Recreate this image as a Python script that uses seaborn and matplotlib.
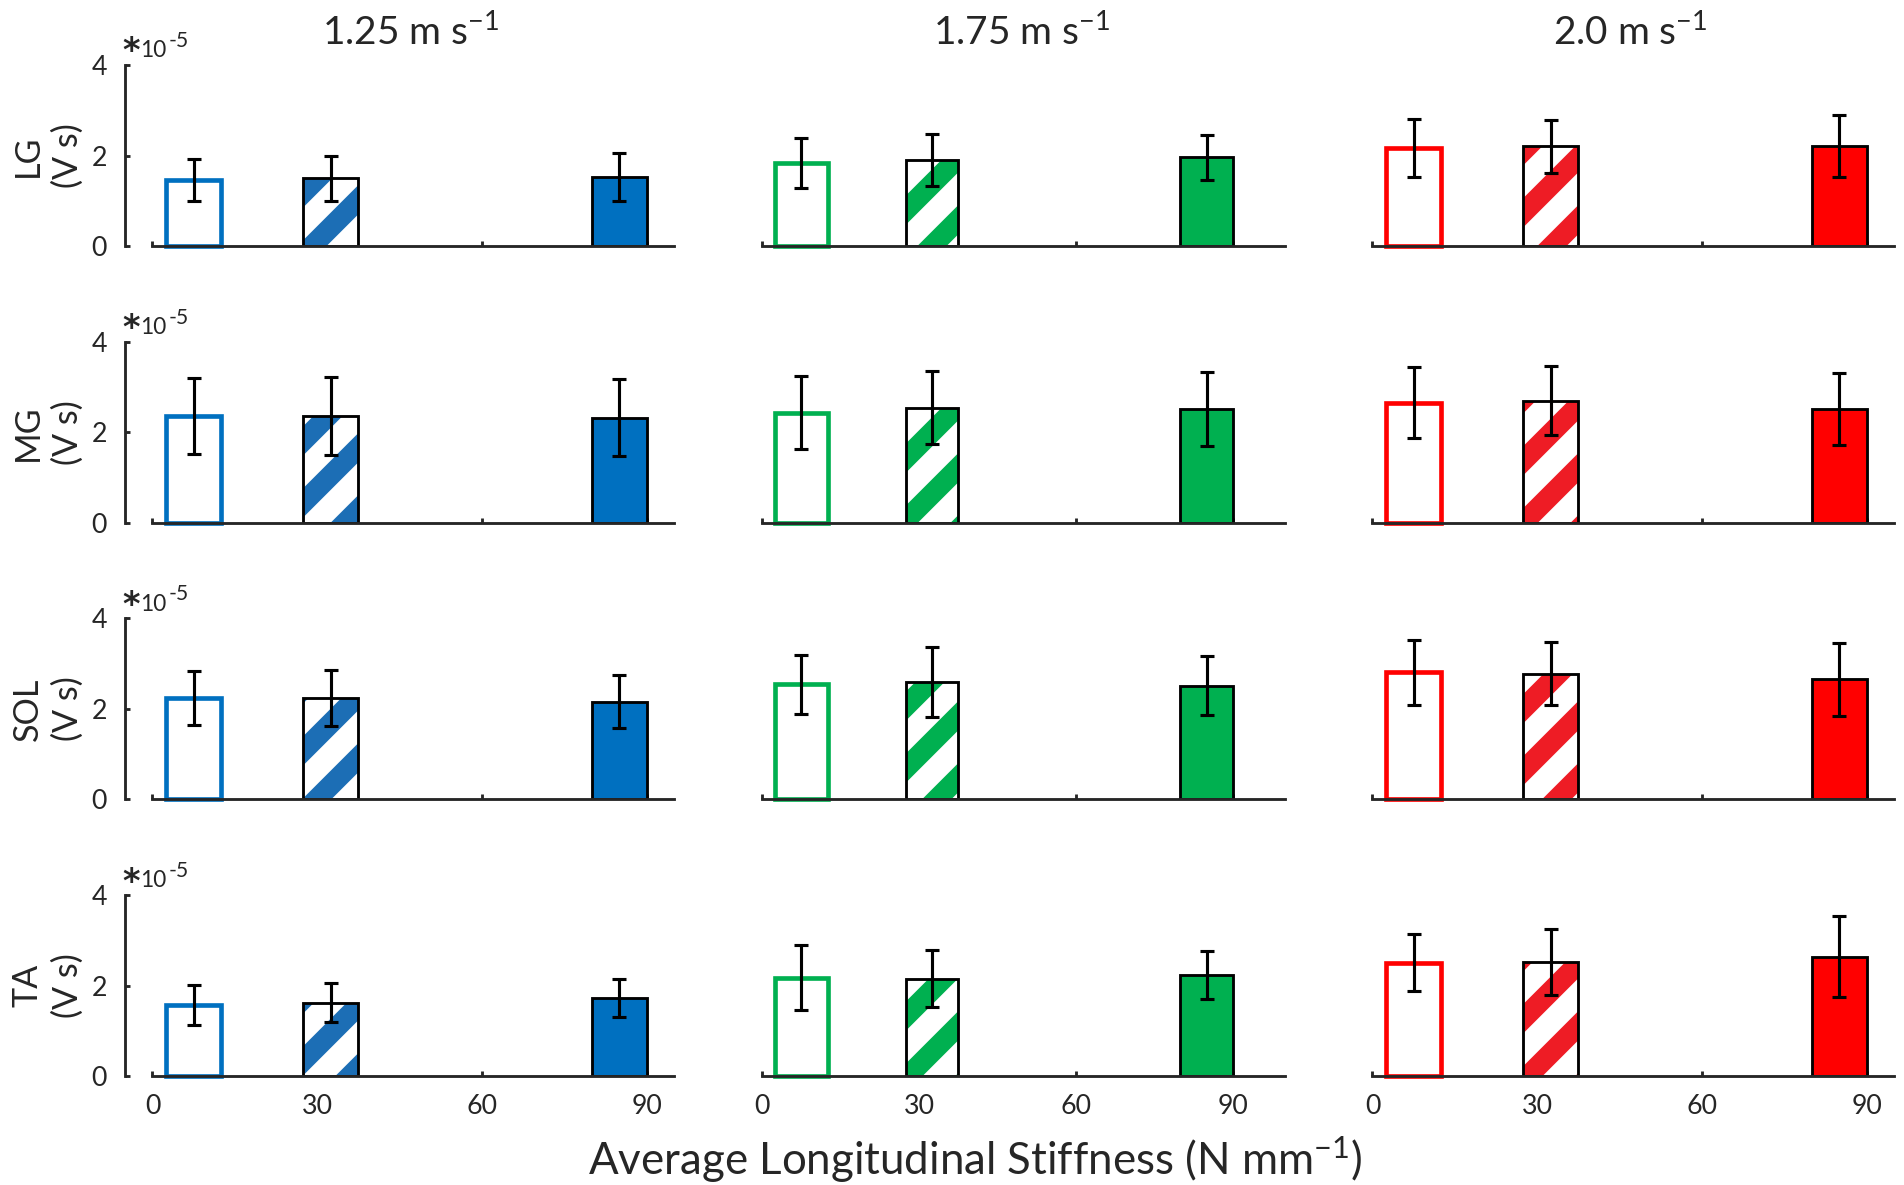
import numpy as np
import seaborn as sns
import matplotlib.pyplot as plt
from matplotlib.patches import Rectangle

# ---------------------------------------------
# data (EMG integral, x 1e-5 V s)
# rows = muscles, cols = stiffness conditions
# ---------------------------------------------
speeds = ["1.25", "1.75", "2.0"]
muscles = ["LG", "MG", "SOL", "TA"]
stiffness = [7.5, 32.5, 85.0]

mean_125 = [[1.46, 1.50, 1.52], [2.35, 2.35, 2.32], [2.24, 2.24, 2.16], [1.58, 1.62, 1.72]]
err_125 = [[0.47, 0.50, 0.53], [0.84, 0.86, 0.85], [0.60, 0.62, 0.58], [0.44, 0.43, 0.42]]

mean_175 = [[1.84, 1.90, 1.96], [2.43, 2.54, 2.51], [2.54, 2.59, 2.51], [2.17, 2.15, 2.24]]
err_175 = [[0.55, 0.58, 0.50], [0.81, 0.81, 0.81], [0.66, 0.78, 0.65], [0.72, 0.63, 0.53]]

mean_200 = [[2.16, 2.20, 2.21], [2.65, 2.70, 2.51], [2.81, 2.78, 2.65], [2.50, 2.52, 2.64]]
err_200 = [[0.64, 0.59, 0.69], [0.78, 0.77, 0.80], [0.72, 0.70, 0.80], [0.63, 0.72, 0.90]]

means = [mean_125, mean_175, mean_200]
errs = [err_125, err_175, err_200]

solid_colors = ["#0070C0", "#00B050", "#FF0000"]
hatch_colors = ["#1C6EB5", "#00B050", "#EE1C25"]
x_right = [95, 100, 95]


# ---------------------------------------------
# style
# ---------------------------------------------
sns.set_style("white")
plt.rcParams["font.family"] = ["Lato", "DejaVu Sans"]
plt.rcParams["mathtext.fontset"] = "custom"
plt.rcParams["mathtext.rm"] = "Lato"
plt.rcParams["mathtext.default"] = "regular"
plt.rcParams["hatch.linewidth"] = 4.0

W, H, DPI = 1904, 1185, 372
fig = plt.figure(figsize=(W / DPI, H / DPI), dpi=DPI)

col_left = [125, 736, 1345]
ax_w = 549 / W
ax_h = 181 / H


for r in range(4):
    bottom_px = 246 + r * 276.7
    for c in range(3):
        ax = fig.add_axes([col_left[c] / W, 1 - bottom_px / H, ax_w, ax_h])
        m = means[c][r]
        e = errs[c][r]

        sns.barplot(
            x=stiffness, y=m, native_scale=True, width=0.4,
            color=solid_colors[c], saturation=1, errorbar=None, ax=ax
        )

        # open / hatched / filled bars
        open_bar, hatch_bar, full_bar = ax.patches[:3]
        open_bar.set(facecolor="white", edgecolor=solid_colors[c], linewidth=0.9, clip_on=False)
        hatch_bar.set(facecolor="white", edgecolor=hatch_colors[c], linewidth=0, hatch="//")
        ax.add_patch(Rectangle(
            hatch_bar.get_xy(), hatch_bar.get_width(), hatch_bar.get_height(),
            fill=False, edgecolor="black", linewidth=0.55, zorder=2.5
        ))
        full_bar.set(facecolor=solid_colors[c], edgecolor="black", linewidth=0.55)

        ax.errorbar(
            stiffness, m, yerr=e, fmt="none", ecolor="black",
            elinewidth=0.6, capsize=1.3, capthick=0.6, zorder=3
        )

        ax.set_xlim(-5, x_right[c])
        ax.set_ylim(0, 4)
        ax.set_xlabel("")
        ax.set_ylabel("")

        for s in ["top", "right"]:
            ax.spines[s].set_visible(False)
        ax.spines["bottom"].set_bounds(0, x_right[c])
        ax.spines["bottom"].set_linewidth(0.55)
        ax.spines["bottom"].set_zorder(4)

        ax.set_xticks([0, 30, 60, 90])
        ax.tick_params(
            axis="x", direction="in", length=1.0, width=0.55,
            labelsize=5.2, pad=3.5, labelbottom=(r == 3), bottom=True
        )

        if c == 0:
            ax.spines["left"].set_bounds(0, 4)
            ax.spines["left"].set_linewidth(0.55)
            ax.set_yticks([0, 2, 4])
            ax.tick_params(
                axis="y", direction="in", length=1.0, width=0.55,
                labelsize=5.2, pad=3.5, left=True
            )
            ax.set_ylabel(
                f"{muscles[r]}\n(V s)", fontsize=6.6,
                va="center", ha="center", linespacing=1.3
            )
            ax.yaxis.set_label_coords(-0.141, 0.5)

            # scale factor label
            ax.text(0.011, 1.072, "*", transform=ax.transAxes, fontsize=6.5,
                    fontweight="bold", ha="center", va="center",
                    family=["DejaVu Sans"])
            ax.text(0.028, 1.042, "10", transform=ax.transAxes, fontsize=4.4,
                    ha="left", va="baseline")
            ax.text(0.08, 1.10, "-5", transform=ax.transAxes, fontsize=4.1,
                    ha="left", va="baseline")
        else:
            ax.spines["left"].set_visible(False)
            ax.set_yticks([])

        if r == 0:
            ax.set_title(f"{speeds[c]} m s$^{{-1}}$", fontsize=7.5, pad=3.9, x=0.52)


fig.text(
    975 / W, 1 - 1160 / H,
    "Average Longitudinal Stiffness (N mm$^{-1}$)",
    ha="center", va="center", fontsize=8.5
)

plt.savefig("out.png", dpi=DPI)
plt.close()
